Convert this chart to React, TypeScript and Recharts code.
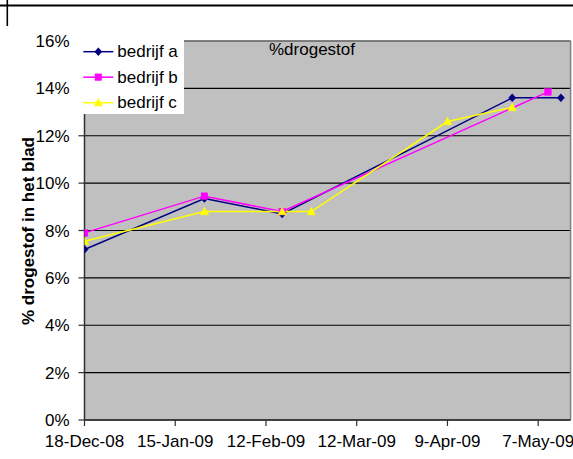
import React from "react";
import {
  LineChart,
  Line,
  XAxis,
  YAxis,
  CartesianGrid,
  Legend,
  ReferenceLine,
} from "recharts";

// ---- data ----
const seriesNames = ["bedrijf a", "bedrijf b", "bedrijf c"];

const datesA = ["2008-12-18", "2009-01-24", "2009-02-17", "2009-04-29", "2009-05-14"];
const valuesA = [7.2, 9.35, 8.7, 13.6, 13.6];

const datesB = ["2008-12-18", "2009-01-24", "2009-02-17", "2009-05-10"];
const valuesB = [7.9, 9.45, 8.8, 13.85];

const datesC = ["2008-12-18", "2009-01-24", "2009-02-17", "2009-02-26", "2009-04-09", "2009-04-29"];
const valuesC = [7.55, 8.8, 8.8, 8.8, 12.6, 13.2];

const xTickDates = ["2008-12-18", "2009-01-15", "2009-02-12", "2009-03-12", "2009-04-09", "2009-05-07"];
const xTickLabels = ["18-Dec-08", "15-Jan-09", "12-Feb-09", "12-Mar-09", "9-Apr-09", "7-May-09"];
const xDomainDates = ["2008-12-18", "2009-05-17"];

const yTicks = [0, 2, 4, 6, 8, 10, 12, 14, 16];

const chartTitle = "%drogestof";
const yAxisTitle = "% drogestof in het blad";

// ---- helpers ----
const FONT = "'Liberation Sans', Arial, Helvetica, sans-serif";
const COLORS = ["#000080", "#FF00FF", "#FFFF00"];

const toMs = (d: string) => Date.parse(d + "T00:00:00Z");
const build = (dates: string[], values: number[]) =>
  dates.map((d, i) => ({ t: toMs(d), v: values[i] }));

const dataA = build(datesA, valuesA);
const dataB = build(datesB, valuesB);
const dataC = build(datesC, valuesC);
const xTicks = xTickDates.map(toMs);
const xDomain = xDomainDates.map(toMs);
const labelFor = (ms: number) => {
  const i = xTicks.indexOf(ms);
  return i >= 0 ? xTickLabels[i] : "";
};

const drawMarker = (shape: number, cx: number, cy: number, color: string, key?: any) => {
  if (shape === 0) {
    return (
      <path
        key={key}
        d={`M${cx},${cy - 4} L${cx + 3.6},${cy} L${cx},${cy + 4} L${cx - 3.6},${cy} Z`}
        fill={color}
        stroke={color}
        strokeWidth={0.5}
      />
    );
  }
  if (shape === 1) {
    return <rect key={key} x={cx - 3.3} y={cy - 3.3} width={6.6} height={6.6} fill={color} stroke={color} strokeWidth={0.5} />;
  }
  return (
    <path
      key={key}
      d={`M${cx},${cy - 4.2} L${cx + 4.2},${cy + 3.3} L${cx - 4.2},${cy + 3.3} Z`}
      fill={color}
      stroke={color}
      strokeWidth={0.5}
    />
  );
};

const makeDot = (shape: number, color: string) => (props: any) => {
  const { cx, cy, index } = props;
  if (cx == null || cy == null) return <g key={`n-${index}`} />;
  return drawMarker(shape, cx, cy, color, `d-${shape}-${index}`);
};

const LegendBox = () => (
  <div style={{ background: "#ffffff", width: 110, height: 82 }}>
    <svg width={110} height={82} style={{ display: "block" }}>
      {seriesNames.map((name, i) => {
        const cy = 19.7 + 25.5 * i;
        return (
          <g key={name}>
            <line x1={9.3} x2={39.3} y1={cy} y2={cy} stroke={COLORS[i]} strokeWidth={1.5} />
            {drawMarker(i, 24.3, cy, COLORS[i])}
            <text x={43.3} y={cy + 5.6} fontSize={17} fontFamily={FONT} fill="#000">
              {name}
            </text>
          </g>
        );
      })}
    </svg>
  </div>
);

const YTitle = () => (
  <text
    x={34}
    y={231}
    transform="rotate(-90 34 231)"
    textAnchor="middle"
    fontSize={17}
    fontWeight="bold"
    fontFamily={FONT}
    fill="#000"
  >
    {yAxisTitle}
  </text>
);

export default function App() {
  const tickStyle = { fill: "#000", fontSize: 17, fontFamily: FONT };
  return (
    <div style={{ position: "absolute", left: 0, top: 0, width: 573, height: 459, background: "#fff" }}>
      <LineChart
        width={573}
        height={459}
        margin={{ top: 41, right: 2.4, bottom: 9, left: 24.5 }}
        style={{ fontFamily: FONT }}
      >
        <CartesianGrid vertical={false} fill="#C0C0C0" stroke="#000" strokeWidth={1.2} fillOpacity={1} />
        <XAxis
          type="number"
          dataKey="t"
          domain={xDomain}
          ticks={xTicks}
          interval={0}
          tickFormatter={labelFor}
          height={30}
          tickSize={6}
          tickMargin={9}
          tick={tickStyle}
          axisLine={{ stroke: "#303030", strokeWidth: 1.5 }}
          tickLine={{ stroke: "#303030", strokeWidth: 1.2 }}
          allowDataOverflow
        />
        <YAxis
          type="number"
          domain={[0, 16]}
          ticks={yTicks}
          interval={0}
          tickFormatter={(v: number) => `${v}%`}
          width={60}
          tickSize={6}
          tickMargin={9}
          tick={tickStyle}
          axisLine={{ stroke: "#303030", strokeWidth: 1.5 }}
          tickLine={{ stroke: "#303030", strokeWidth: 1.2 }}
          label={{ content: () => <YTitle /> }}
        />
        <ReferenceLine y={16} stroke="#808080" strokeWidth={1.5} ifOverflow="extendDomain" />
        <ReferenceLine x={xDomain[1]} stroke="#808080" strokeWidth={1.5} />
        <Legend
          layout="horizontal"
          verticalAlign="middle"
          align="center"
          content={() => <LegendBox />}
          wrapperStyle={{ position: "absolute", left: 74, top: 32, width: 110, height: 82 }}
        />
        <Line
          name={seriesNames[0]}
          data={dataA}
          dataKey="v"
          stroke={COLORS[0]}
          strokeWidth={1.5}
          dot={makeDot(0, COLORS[0])}
          activeDot={false}
          isAnimationActive={false}
        />
        <Line
          name={seriesNames[1]}
          data={dataB}
          dataKey="v"
          stroke={COLORS[1]}
          strokeWidth={1.5}
          dot={makeDot(1, COLORS[1])}
          activeDot={false}
          isAnimationActive={false}
        />
        <Line
          name={seriesNames[2]}
          data={dataC}
          dataKey="v"
          stroke={COLORS[2]}
          strokeWidth={1.5}
          dot={makeDot(2, COLORS[2])}
          activeDot={false}
          isAnimationActive={false}
        />
      </LineChart>
      <svg
        width={573}
        height={459}
        style={{ position: "absolute", left: 0, top: 0, pointerEvents: "none" }}
      >
        <line x1={0} x2={573} y1={5.5} y2={5.5} stroke="#000" strokeWidth={2} />
        <line x1={7.3} x2={7.3} y1={0} y2={26} stroke="#000" strokeWidth={1.6} />
        <text x={312} y={55} textAnchor="middle" fontSize={17} fontFamily={FONT} fill="#000">
          {chartTitle}
        </text>
      </svg>
    </div>
  );
}
